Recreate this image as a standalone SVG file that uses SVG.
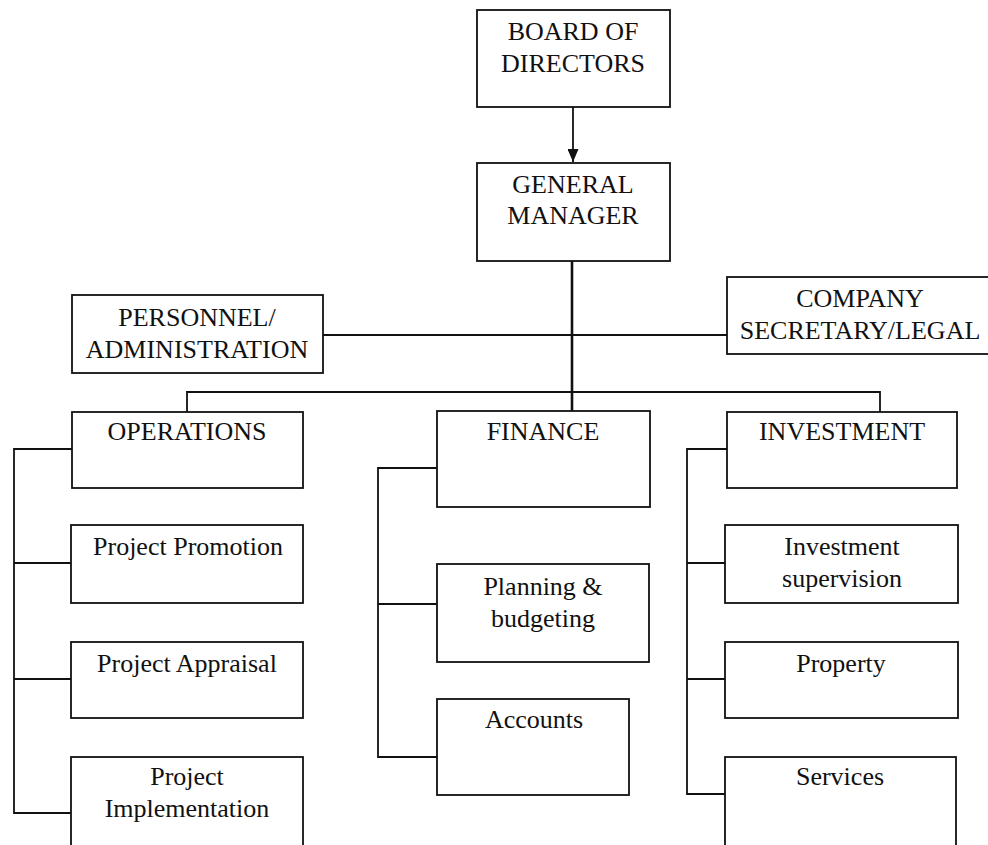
<svg xmlns="http://www.w3.org/2000/svg" width="988" height="845" viewBox="0 0 988 845">
<style>
.box{fill:#fff;stroke:#111;stroke-width:1.8}
.t{font-family:"Liberation Serif","Times New Roman",serif;font-size:26px;fill:#111;text-anchor:middle}
.c{fill:none;stroke:#111;stroke-width:1.8}
.ct{fill:none;stroke:#111;stroke-width:2.6}
</style>
<defs>
<marker id="ah" markerWidth="14" markerHeight="11" refX="13" refY="5.5" orient="auto" markerUnits="userSpaceOnUse">
<path d="M0,0 L13,5.5 L0,11 Z" fill="#111"/>
</marker>
</defs>
<rect width="988" height="845" fill="#fff"/>
<g id="connectors">
<line class="c" x1="573" y1="107" x2="573" y2="162" marker-end="url(#ah)"/>
<line class="ct" x1="572" y1="261" x2="572" y2="411"/>
<line class="c" x1="323" y1="335" x2="727" y2="335"/>
<polyline class="c" points="187,412 187,392 880,392 880,412"/>
<polyline class="c" points="72,449 14,449 14,813 72,813"/>
<line class="c" x1="14" y1="563" x2="72" y2="563"/>
<line class="c" x1="14" y1="679" x2="72" y2="679"/>
<polyline class="c" points="437,468 378,468 378,757 437,757"/>
<line class="c" x1="378" y1="604" x2="437" y2="604"/>
<polyline class="c" points="727,449 687,449 687,794 725,794"/>
<line class="c" x1="687" y1="563" x2="725" y2="563"/>
<line class="c" x1="687" y1="679" x2="725" y2="679"/>
</g>
<g id="board">
<rect class="box" x="477" y="10" width="193" height="97"/>
<text class="t" x="573" y="40">BOARD OF</text>
<text class="t" x="573" y="72">DIRECTORS</text>
</g>
<g id="gm">
<rect class="box" x="477" y="163" width="193" height="98"/>
<text class="t" x="573" y="193">GENERAL</text>
<text class="t" x="573" y="224">MANAGER</text>
</g>
<g id="personnel">
<rect class="box" x="72" y="295" width="251" height="78"/>
<text class="t" x="197" y="326">PERSONNEL/</text>
<text class="t" x="197" y="358">ADMINISTRATION</text>
</g>
<g id="company">
<rect class="box" x="727" y="277" width="266" height="77"/>
<text class="t" x="860" y="307">COMPANY</text>
<text class="t" x="860" y="339">SECRETARY/LEGAL</text>
</g>
<g id="operations">
<rect class="box" x="72" y="412" width="231" height="76"/>
<text class="t" x="187" y="440">OPERATIONS</text>
</g>
<g id="finance">
<rect class="box" x="437" y="411" width="213" height="96"/>
<text class="t" x="543" y="440">FINANCE</text>
</g>
<g id="investment">
<rect class="box" x="727" y="412" width="230" height="76"/>
<text class="t" x="842" y="440">INVESTMENT</text>
</g>
<g id="promotion">
<rect class="box" x="71" y="525" width="232" height="78"/>
<text class="t" x="188" y="555">Project Promotion</text>
</g>
<g id="appraisal">
<rect class="box" x="71" y="642" width="232" height="76"/>
<text class="t" x="187" y="672">Project Appraisal</text>
</g>
<g id="implementation">
<rect class="box" x="71" y="757" width="232" height="100"/>
<text class="t" x="187" y="785">Project</text>
<text class="t" x="187" y="817">Implementation</text>
</g>
<g id="planning">
<rect class="box" x="437" y="564" width="212" height="98"/>
<text class="t" x="543" y="595">Planning &amp;</text>
<text class="t" x="543" y="627">budgeting</text>
</g>
<g id="accounts">
<rect class="box" x="437" y="699" width="192" height="96"/>
<text class="t" x="534" y="728">Accounts</text>
</g>
<g id="supervision">
<rect class="box" x="725" y="525" width="233" height="78"/>
<text class="t" x="842" y="555">Investment</text>
<text class="t" x="842" y="587">supervision</text>
</g>
<g id="property">
<rect class="box" x="725" y="642" width="233" height="76"/>
<text class="t" x="841" y="672">Property</text>
</g>
<g id="services">
<rect class="box" x="725" y="757" width="231" height="100"/>
<text class="t" x="840" y="785">Services</text>
</g>
</svg>
